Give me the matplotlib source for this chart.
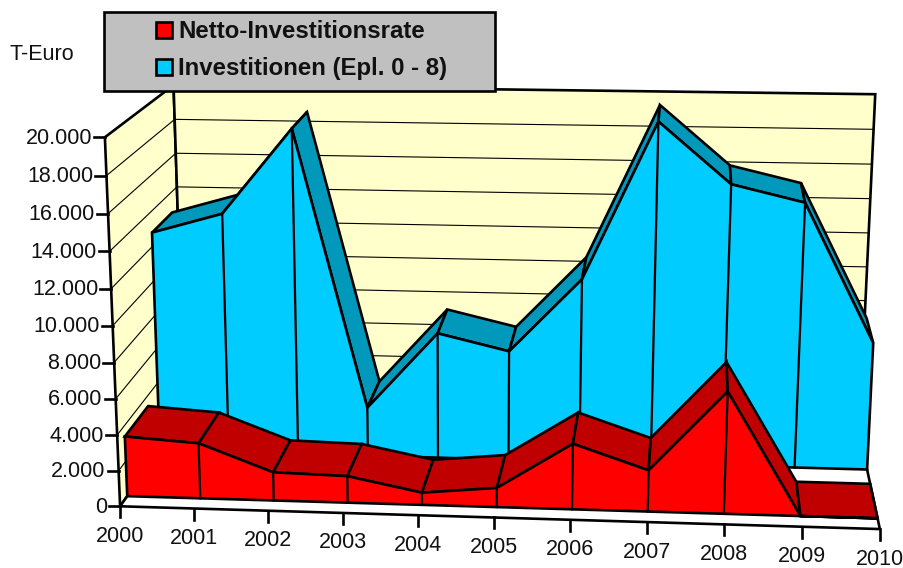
import numpy as np
import matplotlib
matplotlib.use("Agg")
import matplotlib.pyplot as plt
from matplotlib.patches import Polygon, Rectangle

plt.rcParams['font.family'] = ['Liberation Sans', 'DejaVu Sans']

years = ['2000','2001','2002','2003','2004','2005','2006','2007','2008','2009','2010']
y_ticks = [0,2000,4000,6000,8000,10000,12000,14000,16000,18000,20000]
y_labels = ['0','2.000','4.000','6.000','8.000','10.000','12.000','14.000','16.000','18.000','20.000']
investitionen = [12790,13940,18800,2860,7320,6370,10600,19480,16090,15140,7330]
netto_rate = [3390,3120,1600,1500,690,1080,3660,2300,6750,0,0]

RED, RED_D = '#FF0000', '#C00000'
BLUE, BLUE_D = '#00CCFF', '#0099BB'
WALL = '#FFFFCC'
Z_RED = (0.10, 0.44)
Z_BLUE = (0.59, 0.91)
YMAX = 20000

# projective camera: fitted to landmarks of the chart box
corners = [((0,0,0),(120,507)),((0,.1,0),(118.5,471)),((0,.2,0),(117,434)),((0,.3,0),(115.5,399)),
           ((0,.4,0),(114,361)),((0,.5,0),(112.5,326)),((0,.6,0),(111,288)),((0,.7,0),(109.5,251)),
           ((0,.8,0),(108,214)),((0,.9,0),(106.5,176)),((0,1,0),(105,137)),
           ((1,0,0),(878,530)),((.5,0,0),(497,518.5)),
           ((0,1,1),(173,90)),((1,1,1),(877,94)),
           ((0,.9,1),(175,118)),((0,.8,1),(175.5,152)),((0,.7,1),(177,186)),
           ((1,.9,1),(873,129)),((1,.8,1),(871.5,164)),((1,.7,1),(870,198))]
A, b = [], []
for (X,Y,Z),(u,v) in corners:
    A.append([X,Y,Z,1,0,0,0,0,-u*X,-u*Y,-u*Z]); b.append(u)
    A.append([0,0,0,0,X,Y,Z,1,-v*X,-v*Y,-v*Z]); b.append(v)
p = np.linalg.lstsq(np.array(A,float),np.array(b,float),rcond=None)[0]
P = np.append(p,1).reshape(3,4)

def proj(i, val, z):
    h = P @ np.array([i/(len(years)-1), val/YMAX, z, 1.0])
    return (h[0]/h[2], h[1]/h[2])

fig = plt.figure(figsize=(9.04,5.68), dpi=100)
ax = fig.add_axes([0,0,1,1])
ax.set_xlim(0,904); ax.set_ylim(568,0); ax.axis('off')
LW = 1.9
n = len(years)

def poly(pts, fc, zo, lw=LW):
    ax.add_patch(Polygon(pts, closed=True, fc=fc, ec='black', lw=lw, joinstyle='miter', zorder=zo))

# walls + floor
poly([proj(0,0,0),proj(0,YMAX,0),proj(0,YMAX,1),proj(0,0,1)], WALL, 1)
poly([proj(0,0,1),proj(0,YMAX,1),proj(n-1,YMAX,1),proj(n-1,0,1)], WALL, 1)
poly([proj(0,0,0),proj(n-1,0,0),proj(n-1,0,1),proj(0,0,1)], 'white', 1)
for t in y_ticks[1:-1]:
    a,b_,c = proj(0,t,0),proj(0,t,1),proj(n-1,t,1)
    ax.plot([a[0],b_[0],c[0]],[a[1],b_[1],c[1]],color='black',lw=0.8,zorder=2)

def area(vals, z, top_c, front_c, zo):
    z1,z2 = z
    for i in range(n-1):
        poly([proj(i,vals[i],z1),proj(i+1,vals[i+1],z1),proj(i+1,vals[i+1],z2),proj(i,vals[i],z2)], top_c, zo)
    front = [proj(i,vals[i],z1) for i in range(n)] + [proj(n-1,0,z1),proj(0,0,z1)]
    poly(front, front_c, zo+1)
    for i in range(1,n-1):
        a,b_ = proj(i,vals[i],z1),proj(i,0,z1)
        ax.plot([a[0],b_[0]],[a[1],b_[1]],color='black',lw=LW*0.85,zorder=zo+2)

area(investitionen, Z_BLUE, BLUE_D, BLUE, 3)
area(netto_rate, Z_RED, RED_D, RED, 6)

# axes ticks + labels
FS = 15.5
for t,l in zip(y_ticks,y_labels):
    u,v = proj(0,t,0)
    ax.plot([u-11,u],[v,v],color='black',lw=LW,zorder=9)
    ax.text(u-13,v+1,l,ha='right',va='center',fontsize=FS,color='#111111',zorder=9)
for i,l in enumerate(years):
    u,v = proj(i,0,0)
    ax.plot([u,u],[v,v+11],color='black',lw=LW,zorder=9)
    ax.text(u,v+30,l,ha='center',va='center',fontsize=FS,color='#111111',zorder=9)
ax.text(10,54,'T-Euro',ha='left',va='center',fontsize=FS,color='#111111',zorder=9)

# legend
ax.add_patch(Rectangle((104,12),391,79,fc='#C0C0C0',ec='black',lw=LW,zorder=10))
for y,c,l in [(31,RED,'Netto-Investitionsrate'),(68,BLUE,'Investitionen (Epl. 0 - 8)')]:
    ax.add_patch(Rectangle((156,y-9),16,16,fc=c,ec='black',lw=LW,zorder=11))
    ax.text(178,y,l,ha='left',va='center',fontsize=17.3,fontweight='bold',color='#111111',zorder=11)

fig.savefig('out.png',dpi=100)
